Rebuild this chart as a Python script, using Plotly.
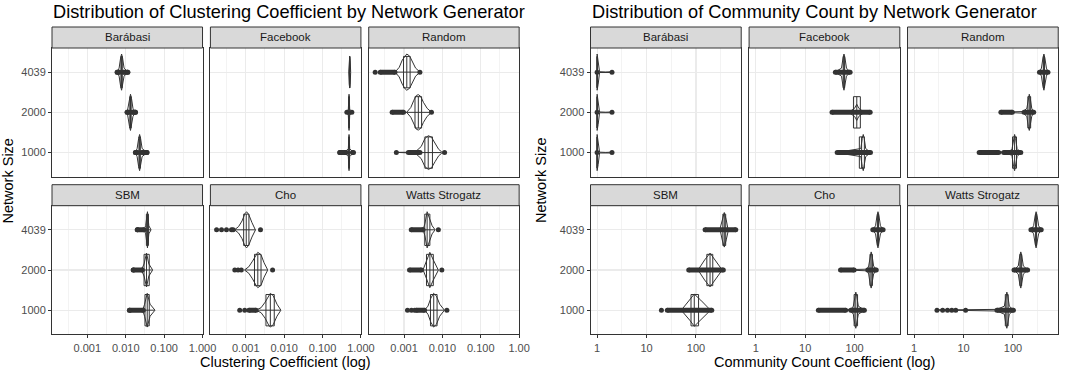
import plotly.graph_objects as go

# ---------------- data ----------------
SIZES = ["1000", "2000", "4039"]          # y categories (bottom -> top)
GENERATORS = ["Barábasi", "Facebook", "Random", "SBM", "Cho", "Watts Strogatz"]

CC_TICKS = [0.001, 0.01, 0.1, 1.0]
CC_TICK_TEXT = ["0.001", "0.010", "0.100", "1.000"]
CC_TICK_TEXT_LAST = ["0.001", "0.010", "0.100", "1.00"]
CC_MINOR = [0.000316, 0.00316, 0.0316, 0.316]

CO_TICKS = [1, 10, 100]
CO_TICK_TEXT = ["1", "10", "100"]
CO_MINOR = [3.16, 31.6, 316]

# each object: per size (1000, 2000, 4039)
# violin_x / violin_hw : violin outline (value, half width in category units)
# box : [lower whisker, q1, median, q3, upper whisker]
# points : single dots ; bands : dense runs of dots [from, to]
LENS_HW = [0.005, 0.1, 0.35, 0.45, 0.35, 0.1, 0.005]
TAIL_HW = [0.005, 0.005, 0.02, 0.1, 0.35, 0.45, 0.35, 0.1, 0.005]

CC_BARABASI = {
    "violin_x": [[0.0179, 0.0198, 0.0217, 0.0230, 0.0244, 0.0267, 0.0357],
                 [0.0109, 0.01147, 0.01254, 0.0133, 0.01411, 0.01543, 0.0179],
                 [0.0060, 0.00672, 0.00735, 0.0078, 0.00828, 0.00905, 0.0113]],
    "violin_hw": [LENS_HW] * 3,
    "box": [[0.0205, 0.0221, 0.0230, 0.0240, 0.0260],
            [0.0120, 0.01277, 0.0133, 0.01386, 0.0147],
            [0.0069, 0.00749, 0.0078, 0.00813, 0.0087]],
    "points": [[0.0179, 0.0357], [0.0109, 0.0179], [0.0060, 0.0113]],
    "bands": [[[0.0179, 0.0205], [0.026, 0.0357]],
              [[0.0109, 0.0120], [0.0147, 0.0179]],
              [[0.0060, 0.0069], [0.0087, 0.0113]]],
}
CC_FACEBOOK = {
    "violin_x": [[0.282, 0.40, 0.47, 0.49, 0.51, 0.64],
                 [0.42, 0.47, 0.49, 0.51, 0.60],
                 [0.48, 0.495, 0.51, 0.525, 0.54]],
    "violin_hw": [[0.005, 0.03, 0.1, 0.45, 0.1, 0.005],
                  [0.005, 0.08, 0.45, 0.08, 0.005],
                  [0.005, 0.3, 0.39, 0.3, 0.005]],
    "box": [[0.44, 0.48, 0.49, 0.50, 0.55],
            [0.46, 0.48, 0.49, 0.50, 0.53],
            [0.50, 0.505, 0.51, 0.515, 0.52]],
    "points": [[0.282, 0.60, 0.64], [0.43, 0.58], []],
    "bands": [[[0.282, 0.42]], [], []],
}
CC_RANDOM = {
    "violin_x": [[0.00063, 0.0013, 0.0021, 0.0028, 0.0035, 0.0043, 0.0052, 0.0065, 0.0080, 0.0095, 0.0114],
                 [0.00118, 0.0015, 0.0018, 0.0021, 0.00236, 0.0027, 0.0032, 0.0040, 0.00519],
                 [0.00059, 0.00075, 0.00090, 0.00110, 0.00118, 0.00140, 0.00165, 0.00200, 0.00259]],
    "violin_hw": [[0.005, 0.008, 0.04, 0.15, 0.35, 0.42, 0.38, 0.22, 0.08, 0.02, 0.005],
                  [0.005, 0.12, 0.3, 0.42, 0.44, 0.4, 0.25, 0.1, 0.005],
                  [0.005, 0.12, 0.3, 0.43, 0.45, 0.4, 0.25, 0.1, 0.005]],
    "box": [[0.0026, 0.00349, 0.00427, 0.0055, 0.0095],
            [0.00100, 0.00193, 0.00236, 0.00287, 0.00519],
            [0.00059, 0.00097, 0.00118, 0.00144, 0.00259]],
    "points": [[0.00063, 0.0114], [0.00519], [0.000177, 0.00259]],
    "bands": [[[0.0013, 0.0026]], [[0.00049, 0.00097]], [[0.00024, 0.00058]]],
}
CC_SBM = {
    "violin_x": [[0.0287, 0.031, 0.0363, 0.043, 0.0573],
                 [0.027, 0.030, 0.0348, 0.040, 0.050],
                 [0.030, 0.033, 0.0368, 0.040, 0.0453]],
    "violin_hw": [[0.05, 0.15, 0.42, 0.15, 0.005],
                  [0.05, 0.15, 0.42, 0.15, 0.005],
                  [0.005, 0.1, 0.45, 0.1, 0.005]],
    "box": [[0.0287, 0.0317, 0.0363, 0.041, 0.0573],
            [0.027, 0.030, 0.0348, 0.041, 0.050],
            [0.030, 0.0345, 0.0368, 0.039, 0.0453]],
    "points": [[0.0125], [0.0157], [0.020]],
    "bands": [[[0.0125, 0.0287]], [[0.0157, 0.027]], [[0.020, 0.030]]],
}
CC_CHO = {
    "violin_x": [[0.00186, 0.0025, 0.0032, 0.0040, 0.00437, 0.0052, 0.0065, 0.00818],
                 [0.00094, 0.0012, 0.0015, 0.00185, 0.00206, 0.0025, 0.0030, 0.00372],
                 [0.000519, 0.00065, 0.0008, 0.00095, 0.00105, 0.0012, 0.00145, 0.00179]],
    "violin_hw": [[0.005, 0.06, 0.2, 0.38, 0.42, 0.36, 0.15, 0.005],
                  [0.005, 0.08, 0.22, 0.38, 0.44, 0.38, 0.18, 0.005],
                  [0.005, 0.08, 0.22, 0.4, 0.45, 0.38, 0.18, 0.005]],
    "box": [[0.00186, 0.00336, 0.00437, 0.00553, 0.00818],
            [0.00094, 0.00169, 0.00206, 0.0025, 0.00372],
            [0.000519, 0.000883, 0.00103, 0.00121, 0.00179]],
    "points": [[0.000697, 0.00094],
               [0.000519, 0.00063, 0.000766, 0.005],
               [0.000174, 0.000234, 0.000315, 0.000424, 0.000469, 0.00242]],
    "bands": [[[0.00121, 0.00186]], [], []],
}
CC_WS = {
    "violin_x": [[0.00343, 0.0042, 0.0050, 0.0059, 0.0070, 0.0085, 0.0112],
                 [0.00313, 0.0038, 0.0047, 0.0058, 0.00785],
                 [0.00313, 0.0035, 0.0040, 0.0046, 0.0054, 0.00641]],
    "violin_hw": [[0.005, 0.1, 0.3, 0.42, 0.35, 0.15, 0.005],
                  [0.005, 0.2, 0.44, 0.25, 0.005],
                  [0.005, 0.15, 0.45, 0.3, 0.1, 0.005]],
    "box": [[0.00343, 0.00489, 0.00594, 0.00726, 0.0112],
            [0.00313, 0.00385, 0.00472, 0.0058, 0.00785],
            [0.00313, 0.00347, 0.0040, 0.00472, 0.00641]],
    "points": [[0.00123, 0.00156, 0.0019, 0.0131], [0.00966], [0.00785]],
    "bands": [[[0.0021, 0.00343]], [[0.00139, 0.00283]], [[0.00154, 0.00313]]],
}

CO_BARABASI = {
    "violin_x": [[1, 1.05, 1.12, 1.5, 1.95, 2.0]] * 3,
    "violin_hw": [[0.45, 0.3, 0.01, 0.004, 0.01, 0.01]] * 3,
    "box": [[1, 1, 1, 1, 1]] * 3,
    "points": [[1, 2]] * 3,
    "bands": [[], [], []],
}
CO_FACEBOOK = {
    "violin_x": [[44.5, 134, 143, 150, 157, 168, 210],
                 [35, 80, 100, 111, 122, 150, 207],
                 [40.9, 54.5, 58.4, 61.1, 64.0, 68.6, 81.3]],
    "violin_hw": [LENS_HW,
                  [0.005, 0.02, 0.1, 0.2, 0.1, 0.02, 0.005],
                  LENS_HW],
    "box": [[100, 125, 139, 158, 190],
            [80, 95, 111, 131, 170],
            [55, 59, 61, 63, 67]],
    "points": [[], [], []],
    "bands": [[[44.5, 210]], [[35, 207]], [[40.9, 81.3]]],
}
CO_RANDOM = {
    "violin_x": [[20.7, 60, 85, 96, 103, 108, 113, 121, 144],
                 [57, 100, 160, 191, 204, 214, 224, 240, 263],
                 [344, 377, 404, 423, 443, 475, 511]],
    "violin_hw": [TAIL_HW, TAIL_HW, LENS_HW],
    "box": [[70, 98, 108, 118, 144],
            [168, 200, 214, 228, 263],
            [380, 412, 423, 434, 470]],
    "points": [[], [], []],
    "bands": [[[20.7, 51.3], [65, 144]], [[57, 97], [168, 263]], [[344, 511]]],
}
CO_SBM = {
    "violin_x": [[52, 75, 92.5, 125, 190],
                 [113, 150, 193, 240, 331],
                 [306, 340, 375, 410, 451]],
    "violin_hw": [[0.02, 0.25, 0.4, 0.25, 0.02],
                  [0.02, 0.25, 0.42, 0.25, 0.02],
                  [0.02, 0.25, 0.43, 0.25, 0.02]],
    "box": [[52.5, 79.4, 92.5, 113, 143],
            [113, 166, 193, 219, 331],
            [306, 350, 375, 400, 451]],
    "points": [[20], [], []],
    "bands": [[[26.3, 209]], [[71.4, 358]], [[153, 640]]],
}
CO_CHO = {
    "violin_x": [[18.5, 70, 84, 94.5, 101, 106, 111, 119, 158],
                 [52, 100, 180, 193, 207, 217, 227, 243, 275],
                 [234, 266, 285, 298, 312, 334, 378]],
    "violin_hw": [TAIL_HW, TAIL_HW, LENS_HW],
    "box": [[84, 98, 106, 115, 158],
            [185, 205, 217, 230, 275],
            [234, 290, 298, 306, 378]],
    "points": [[], [], []],
    "bands": [[[18.5, 66], [84, 158]], [[52, 98], [185, 275]], [[234, 378]]],
}
CO_WS = {
    "violin_x": [[2.9, 11, 47.4, 67, 71.8, 75.2, 78.7, 84.4, 102],
                 [105, 128, 137.5, 144, 151, 162, 198],
                 [231, 262, 281, 294, 308, 330, 373]],
    "violin_hw": [TAIL_HW, LENS_HW, LENS_HW],
    "box": [[47.4, 70, 75.2, 80, 102],
            [105, 138, 144, 150, 198],
            [231, 287, 294, 301, 373]],
    "points": [[2.9, 3.77, 4.74, 5.78, 6.95, 11.0], [], []],
    "bands": [[[47.4, 102]], [[105, 198]], [[231, 373]]],
}

CC_DATA = [CC_BARABASI, CC_FACEBOOK, CC_RANDOM, CC_SBM, CC_CHO, CC_WS]
CO_DATA = [CO_BARABASI, CO_FACEBOOK, CO_RANDOM, CO_SBM, CO_CHO, CO_WS]

# ---------------- layout geometry (pixels) ----------------
W, H = 1074, 373
COLS_LEFT = [(52.7, 205.2), (213.2, 365.7), (373.6, 526.0)]
COLS_RIGHT = [(598.3, 751.0), (759.0, 911.7), (919.5, 1072.2)]
ROWS = [(48.0, 176.7), (205.7, 334.3)]
STRIPS = [(27.0, 48.0), (184.7, 205.7)]
CC_RANGE = [-3.92, 0.0]
CO_RANGE = [-0.134, 2.916]

DARK = "#333333"
GRID = "#EBEBEB"
FONT = "Liberation Sans, Arial, Helvetica, sans-serif"
BOX_HALF = 0.39


def px_x(v):
    return v / W


def px_y(v):
    return 1 - v / H


fig = go.Figure()


def add_panel(data, k):
    xa, ya = "x%d" % k, "y%d" % k
    vx, vy, bx, by, nx, ny, px, py = [], [], [], [], [], [], [], []
    for i in range(3):
        c = i + 1
        xs = data["violin_x"][i]
        hw = data["violin_hw"][i]
        vx += xs + xs[::-1] + [xs[0], None]
        vy += [c + w for w in hw] + [c - w for w in hw[::-1]] + [c + hw[0], None]
        lo, q1, med, q3, hi = data["box"][i]
        bx += [lo, hi, None, q1, q3, q3, q1, q1, None, med, med, None]
        by += [c, c, None, c - BOX_HALF, c - BOX_HALF, c + BOX_HALF, c + BOX_HALF,
               c - BOX_HALF, None, c - BOX_HALF, c + BOX_HALF, None]
        for a, b in data["bands"][i]:
            nx += [a, b, None]
            ny += [c, c, None]
            px += [a, b]
            py += [c, c]
        for p in data["points"][i]:
            px.append(p)
            py.append(c)
    fig.add_trace(go.Scatter(x=vx, y=vy, xaxis=xa, yaxis=ya, mode="lines", fill="toself",
                             fillcolor="white", line=dict(color=DARK, width=1.0),
                             hoverinfo="skip", showlegend=False))
    fig.add_trace(go.Scatter(x=bx, y=by, xaxis=xa, yaxis=ya, mode="lines",
                             line=dict(color=DARK, width=1.0),
                             hoverinfo="skip", showlegend=False))
    if nx:
        fig.add_trace(go.Scatter(x=nx, y=ny, xaxis=xa, yaxis=ya, mode="lines",
                                 line=dict(color=DARK, width=5),
                                 hoverinfo="skip", showlegend=False))
    if px:
        fig.add_trace(go.Scatter(x=px, y=py, xaxis=xa, yaxis=ya, mode="markers",
                                 marker=dict(color=DARK, size=5, line=dict(width=0)),
                                 hoverinfo="skip", showlegend=False))


layout = dict(width=W, height=H, margin=dict(l=0, r=0, t=0, b=0),
              paper_bgcolor="white", plot_bgcolor="white", showlegend=False,
              font=dict(family=FONT, color="#4D4D4D", size=11))
shapes, annotations = [], []

for chart, (cols, datas, rng, ticks, minor) in enumerate([
        (COLS_LEFT, CC_DATA, CC_RANGE, CC_TICKS, CC_MINOR),
        (COLS_RIGHT, CO_DATA, CO_RANGE, CO_TICKS, CO_MINOR)]):
    for g, name in enumerate(GENERATORS):
        r, cidx = g // 3, g % 3
        k = chart * 6 + g + 1
        add_panel(datas[g], k)
        x0, x1 = cols[cidx]
        y0, y1 = ROWS[r]
        if chart == 0:
            ttext = CC_TICK_TEXT_LAST if cidx == 2 else CC_TICK_TEXT
        else:
            ttext = CO_TICK_TEXT
        bottom = r == 1
        left = cidx == 0
        layout["xaxis%d" % k] = dict(
            domain=[px_x(x0), px_x(x1)], anchor="y%d" % k, type="log", range=rng,
            tickmode="array", tickvals=ticks, ticktext=ttext,
            showticklabels=bottom, ticks="outside" if bottom else "",
            ticklen=3, tickwidth=1, tickcolor=DARK,
            tickfont=dict(family=FONT, size=11, color="#4D4D4D"),
            showgrid=True, gridcolor=GRID, gridwidth=1.1,
            minor=dict(tickmode="array", tickvals=minor, showgrid=True,
                       gridcolor=GRID, gridwidth=0.6, ticks=""),
            showline=True, mirror=True, linecolor=DARK, linewidth=1,
            zeroline=False, fixedrange=True)
        layout["yaxis%d" % k] = dict(
            domain=[px_y(y1), px_y(y0)], anchor="x%d" % k, range=[0.4, 3.6],
            tickmode="array", tickvals=[1, 2, 3], ticktext=SIZES,
            showticklabels=left, ticks="outside" if left else "",
            ticklen=3, tickwidth=1, tickcolor=DARK,
            tickfont=dict(family=FONT, size=11, color="#4D4D4D"),
            showgrid=True, gridcolor=GRID, gridwidth=1.1,
            showline=True, mirror=True, linecolor=DARK, linewidth=1,
            zeroline=False, fixedrange=True)
        s0, s1 = STRIPS[r]
        shapes.append(dict(type="rect", xref="paper", yref="paper",
                           x0=px_x(x0), x1=px_x(x1), y0=px_y(s1), y1=px_y(s0),
                           fillcolor="#D9D9D9", line=dict(color=DARK, width=1), layer="above"))
        annotations.append(dict(text=name, xref="paper", yref="paper",
                                x=px_x((x0 + x1) / 2), y=px_y((s0 + s1) / 2),
                                xanchor="center", yanchor="middle", showarrow=False,
                                font=dict(family=FONT, size=11.5, color="#1A1A1A")))

TITLES = ["Distribution of Clustering Coefficient by Network Generator",
          "Distribution of Community Count by Network Generator"]
XTITLES = ["Clustering Coefficient (log)", "Community Count Coefficient (log)"]
YTITLE = "Network Size"

for chart, cols in enumerate([COLS_LEFT, COLS_RIGHT]):
    annotations.append(dict(text=TITLES[chart], xref="paper", yref="paper",
                            x=px_x(cols[0][0] - 1), y=px_y(11.5), xanchor="left", yanchor="middle",
                            showarrow=False, font=dict(family=FONT, size=18.2, color="black")))
    annotations.append(dict(text=XTITLES[chart], xref="paper", yref="paper",
                            x=px_x((cols[0][0] + cols[2][1]) / 2), y=px_y(361.5),
                            xanchor="center", yanchor="middle", showarrow=False,
                            font=dict(family=FONT, size=14.5, color="black")))
    annotations.append(dict(text=YTITLE, xref="paper", yref="paper",
                            x=px_x(8 if chart == 0 else 547.5), y=px_y(180.6),
                            xanchor="center", yanchor="middle", textangle=-90, showarrow=False,
                            font=dict(family=FONT, size=14.5, color="black")))

layout["shapes"] = shapes
layout["annotations"] = annotations
fig.update_layout(**layout)
fig.write_html("out.html", config={"displayModeBar": False, "staticPlot": True},
               post_script="document.body.style.margin='0';document.body.style.padding='0';")
